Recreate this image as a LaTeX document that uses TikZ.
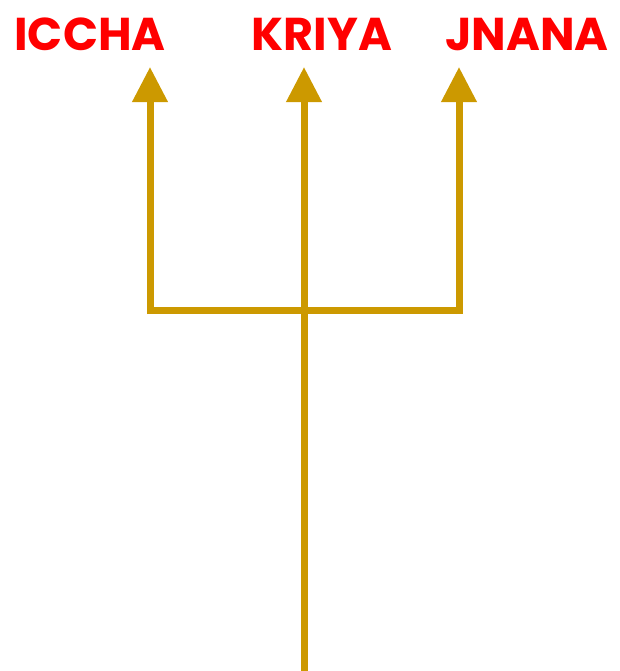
\documentclass[tikz,border=0pt]{standalone}
\usepackage{fontspec}
\setmainfont{Poppins}
\usetikzlibrary{arrows.meta}
\definecolor{gold}{HTML}{CC9900}
\definecolor{lblred}{HTML}{FF0000}
\begin{document}
\begin{tikzpicture}[x=1bp,y=-1bp,
  stem/.style={draw=gold,line width=7bp},
  up/.style={stem,-{Triangle[length=35bp,width=34bp]}},
  lbl/.style={text=lblred,font=\fontsize{46bp}{46bp}\selectfont\bfseries,inner sep=0pt,anchor=base}]
\useasboundingbox (0,0) rectangle (620,671);
\node[lbl] (iccha) at (90,51) {ICCHA};
\node[lbl] (kriya) at (322,51) {KRIYA};
\node[lbl] (jnana) at (527,51) {JNANA};
\coordinate (bl) at (147,310);
\coordinate (br) at (462,310);
\coordinate (mid) at (304,310);
\coordinate (bottom) at (304,671);
\coordinate (lb) at (150,314);
\coordinate (rb) at (459,314);
\coordinate (lt) at (150,67);
\coordinate (mt) at (304,67);
\coordinate (rt) at (459,67);
\draw[stem] (bl) -- (br);
\draw[up] (lb) -- (lt);
\draw[up] (rb) -- (rt);
\draw[up] (bottom) -- (mt);
\end{tikzpicture}
\end{document}
